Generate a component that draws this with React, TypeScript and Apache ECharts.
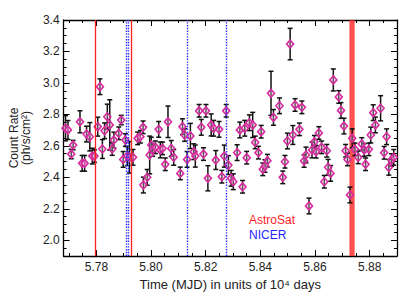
import React, { useEffect, useRef } from "react";
import * as echarts from "echarts";

// Time in units of 10^4 days (MJD)
const time = [
  5.7687, 5.7696, 5.7708, 5.7715, 5.774, 5.7748, 5.7757, 5.7764, 5.7776, 5.7785,
  5.7793, 5.7805, 5.7813, 5.7822, 5.783, 5.784, 5.7849, 5.7858, 5.7864, 5.7882,
  5.7891, 5.7898, 5.7906, 5.7913, 5.7921, 5.7934, 5.7951, 5.7961, 5.7971, 5.7972,
  5.7986, 5.7995, 5.8001, 5.8006, 5.8016, 5.8028, 5.8034, 5.8042, 5.8052, 5.8062,
  5.8074, 5.8083, 5.8107, 5.8115, 5.8123, 5.8132, 5.8144, 5.8156, 5.8162, 5.8176,
  5.8184, 5.8192, 5.8201, 5.8208, 5.822, 5.8229, 5.8237, 5.8249, 5.8259, 5.8268,
  5.8275, 5.8283, 5.8293, 5.8301, 5.8315, 5.8325, 5.8335, 5.8343, 5.835, 5.836,
  5.8372, 5.8381, 5.8393, 5.8403, 5.8409, 5.8417, 5.8426, 5.8439, 5.8448, 5.847,
  5.8482, 5.849, 5.8499, 5.8509, 5.8519, 5.8527, 5.8543, 5.8552, 5.856, 5.8567,
  5.8578, 5.8589, 5.8598, 5.8604, 5.8614, 5.8624, 5.8634, 5.8643, 5.8648, 5.8657,
  5.8667, 5.8687, 5.8695, 5.8706, 5.8712, 5.8719, 5.8728, 5.8736, 5.8746, 5.8758,
  5.8771, 5.878, 5.8785, 5.8797, 5.8804, 5.8813, 5.8821, 5.884, 5.8853, 5.8862,
  5.887, 5.888, 5.8888,
];

// Count rate (ph/s/cm^2)
const rate = [
  2.712, 2.701, 2.548, 2.605, 2.753, 2.489, 2.489, 2.675, 2.658, 2.535,
  2.535, 2.722, 2.976, 2.58, 2.696, 2.785, 2.733, 2.58, 2.637, 2.68,
  2.764, 2.514, 2.637, 2.535, 2.527, 2.527, 2.648, 2.658, 2.718, 2.351,
  2.4, 2.542, 2.605, 2.574, 2.591, 2.705, 2.574, 2.584, 2.483, 2.753,
  2.584, 2.527, 2.425, 2.722, 2.669, 2.514, 2.663, 2.563, 2.535, 2.823,
  2.718, 2.548, 2.823, 2.394, 2.733, 2.712, 2.51, 2.705, 2.404, 2.535,
  2.823, 2.478, 2.394, 2.372, 2.557, 2.701, 2.34, 2.712, 2.525, 2.747,
  2.733, 2.622, 2.557, 2.69, 2.451, 2.472, 2.506, 2.934, 2.781, 2.855,
  2.4, 2.499, 2.631, 3.247, 2.669, 2.86, 2.705, 2.845, 2.504, 2.542,
  2.218, 2.574, 2.626, 2.563, 2.682, 2.591, 2.372, 2.569, 2.464, 2.425,
  3.019, 2.911, 2.825, 2.726, 2.569, 2.514, 2.288, 2.648, 2.578, 2.527,
  2.612, 2.574, 2.483, 2.578, 2.669, 2.811, 2.733, 2.839, 2.556, 2.658,
  2.464, 2.51, 2.527,
];

// 1-sigma error of the count rate
const rateErr = [
  0.08, 0.06, 0.03, 0.03, 0.07, 0.05, 0.05, 0.05, 0.09, 0.05,
  0.04, 0.06, 0.05, 0.06, 0.05, 0.08, 0.16, 0.04, 0.05, 0.04,
  0.03, 0.05, 0.04, 0.06, 0.1, 0.05, 0.04, 0.04, 0.04, 0.05,
  0.05, 0.12, 0.05, 0.04, 0.04, 0.05, 0.05, 0.04, 0.04, 0.1,
  0.05, 0.05, 0.04, 0.05, 0.04, 0.05, 0.08, 0.05, 0.07, 0.04,
  0.05, 0.04, 0.04, 0.08, 0.07, 0.05, 0.06, 0.05, 0.04, 0.07,
  0.04, 0.06, 0.05, 0.05, 0.05, 0.05, 0.04, 0.05, 0.04, 0.05,
  0.08, 0.04, 0.04, 0.04, 0.04, 0.04, 0.04, 0.14, 0.05, 0.05,
  0.04, 0.04, 0.05, 0.1, 0.06, 0.04, 0.04, 0.04, 0.04, 0.05,
  0.05, 0.05, 0.04, 0.04, 0.04, 0.04, 0.04, 0.04, 0.05, 0.05,
  0.07, 0.04, 0.05, 0.05, 0.04, 0.04, 0.05, 0.06, 0.04, 0.04,
  0.04, 0.04, 0.04, 0.04, 0.05, 0.05, 0.05, 0.08, 0.04, 0.05,
  0.05, 0.04, 0.05,
];

const astrosatLines = [5.7797, 5.7926];
const nicerLines = [5.7908, 5.7917, 5.8132, 5.8277];
const astrosatBand = [5.8726, 5.8745];

const xRange = [5.768, 5.89];
const yRange = [1.9, 3.4];

const legendLabels = ["AstroSat", "NICER"];
const xTitle = "Time (MJD) in units of 10\u2074 days";
const yTitle = "Count Rate\n(ph/s/cm\u00b2)";

const FONT = "'Liberation Sans', Arial, Helvetica, sans-serif";

export default function App() {
  const ref = useRef<HTMLDivElement>(null);

  useEffect(() => {
    if (!ref.current) return;
    const chart = echarts.init(ref.current, undefined, { renderer: "svg" });

    const tickStyle = { color: "#000", width: 1 };
    const makeX = (primary: boolean) => ({
      type: "value",
      min: xRange[0],
      max: xRange[1],
      splitNumber: 6,
      position: primary ? "bottom" : "top",
      name: primary ? xTitle : "",
      nameLocation: "middle",
      nameGap: 20,
      nameTextStyle: { fontFamily: FONT, fontSize: 13, color: "#222" },
      axisLine: { show: true, onZero: false, lineStyle: { color: "#000", width: 1.3 } },
      axisTick: { show: true, inside: true, length: 6, lineStyle: tickStyle },
      minorTick: { show: true, splitNumber: 4, length: 3, lineStyle: tickStyle },
      axisLabel: {
        show: primary,
        showMinLabel: false,
        showMaxLabel: false,
        formatter: (v: number) => v.toFixed(2),
        fontFamily: FONT,
        fontSize: 12,
        color: "#222",
        margin: 5,
      },
      splitLine: { show: false },
    });
    const makeY = (primary: boolean) => ({
      type: "value",
      min: yRange[0],
      max: yRange[1],
      splitNumber: 8,
      position: primary ? "left" : "right",
      name: primary ? yTitle : "",
      nameLocation: "middle",
      nameGap: 17,
      nameTextStyle: { fontFamily: FONT, fontSize: 12, color: "#222", lineHeight: 12 },
      axisLine: { show: true, onZero: false, lineStyle: { color: "#000", width: 1.3 } },
      axisTick: { show: true, inside: true, length: 6, lineStyle: tickStyle },
      minorTick: { show: true, splitNumber: 4, length: 3, lineStyle: tickStyle },
      axisLabel: {
        show: primary,
        showMinLabel: false,
        formatter: (v: number) => v.toFixed(1),
        fontFamily: FONT,
        fontSize: 12,
        color: "#222",
        margin: 4,
      },
      splitLine: { show: false },
    });

    const option = {
      animation: false,
      backgroundColor: "#fff",
      grid: { left: 63, right: 18, top: 20, bottom: 41 },
      xAxis: [makeX(true), makeX(false)],
      yAxis: [makeY(true), makeY(false)],
      graphic: [
        {
          type: "text",
          left: 249,
          top: 214,
          style: { text: legendLabels[0], fill: "#ff1f1f", font: `12px ${FONT}` },
        },
        {
          type: "text",
          left: 249,
          top: 229,
          style: { text: legendLabels[1], fill: "#1f1fff", font: `12px ${FONT}` },
        },
      ],
      series: [
        {
          type: "line",
          data: [],
          silent: true,
          z: 1,
          markArea: {
            silent: true,
            itemStyle: { color: "rgba(255,30,30,0.78)" },
            data: [[{ xAxis: astrosatBand[0] }, { xAxis: astrosatBand[1] }]],
          },
          markLine: {
            silent: true,
            precision: 6,
            symbol: ["none", "none"],
            label: { show: false },
            data: [
              ...nicerLines.map((x) => ({
                xAxis: x,
                lineStyle: { color: "#2a2aff", type: "dotted", width: 1.4 },
              })),
              ...astrosatLines.map((x) => ({
                xAxis: x,
                lineStyle: { color: "#ff2020", type: "solid", width: 1.3 },
              })),
            ],
          },
        },
        {
          type: "custom",
          z: 3,
          clip: true,
          data: time.map((t, i) => [t, rate[i] - rateErr[i], rate[i] + rateErr[i]]),
          encode: { x: 0, y: [1, 2] },
          renderItem: (_params: any, api: any) => {
            const x = api.value(0);
            const lo = api.coord([x, api.value(1)]);
            const hi = api.coord([x, api.value(2)]);
            const hw = 2.5;
            const st = { stroke: "#111", lineWidth: 1.5 };
            return {
              type: "group",
              children: [
                { type: "line", shape: { x1: lo[0], y1: lo[1], x2: hi[0], y2: hi[1] }, style: st },
                { type: "line", shape: { x1: lo[0] - hw, y1: lo[1], x2: lo[0] + hw, y2: lo[1] }, style: st },
                { type: "line", shape: { x1: hi[0] - hw, y1: hi[1], x2: hi[0] + hw, y2: hi[1] }, style: st },
              ],
            };
          },
        },
        {
          type: "scatter",
          z: 4,
          symbol: "diamond",
          symbolSize: [7, 8],
          data: time.map((t, i) => [t, rate[i]]),
          itemStyle: {
            color: "rgba(240,200,225,0.35)",
            borderColor: "#d62a9e",
            borderWidth: 1.6,
            opacity: 1,
          },
        },
      ],
    };

    chart.setOption(option as any);
    return () => chart.dispose();
  }, []);

  return (
    <div
      ref={ref}
      style={{ position: "fixed", left: 0, top: 0, width: 415, height: 297, background: "#fff" }}
    />
  );
}
